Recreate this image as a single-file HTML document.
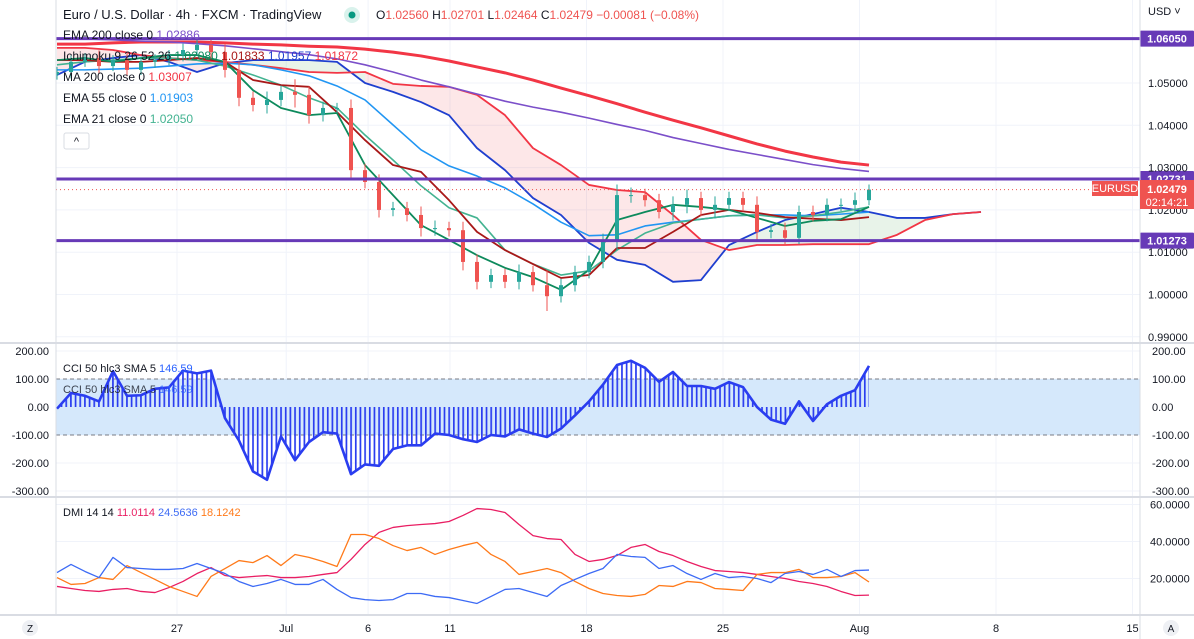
<!DOCTYPE html>
<html><head><meta charset="utf-8">
<style>
html,body{margin:0;padding:0;background:#fff;}
svg{display:block;font-family:"Liberation Sans",Arial,sans-serif;}
</style></head>
<body>
<svg id="chart" width="1194" height="639" viewBox="0 0 1194 639" xmlns="http://www.w3.org/2000/svg">
<defs>
<pattern id="cciPat" patternUnits="userSpaceOnUse" width="4.67" height="10"><rect x="0" y="0" width="1.7" height="10" fill="#2a3df0"/></pattern>
<clipPath id="mainClip"><rect x="56" y="0" width="1084" height="343"/></clipPath>
</defs>
<rect x="0" y="0" width="1194" height="639" fill="#fff"/>
<g id="grid"></g>
<g id="cloud" clip-path="url(#mainClip)"></g>
<g id="lines" clip-path="url(#mainClip)"></g>
<g id="candles" clip-path="url(#mainClip)"></g>
<g id="hlines"></g>
<g id="cci"></g>
<g id="dmi"></g>
<g id="axes"></g>
<g id="legend"></g>
</svg>
<script>
// ---- main price data (14px grid) ----
const closes=[1.0526,1.0550,1.0559,1.0540,1.0554,1.0531,1.0550,1.0554,1.0566,1.0578,1.0590,1.0573,1.0531,1.0465,1.0448,1.0460,1.0479,1.0472,1.0424,1.0441,1.0441,1.0294,1.0266,1.0200,1.0204,1.0188,1.0157,1.0157,1.0152,1.0077,1.0030,1.0046,1.0030,1.0053,1.0022,0.9996,1.0022,1.0053,1.0077,1.0129,1.0235,1.0235,1.0223,1.0195,1.0212,1.0228,1.0200,1.0212,1.0228,1.0212,1.0148,1.0152,1.0134,1.0195,1.0188,1.0212,1.0212,1.0223,1.0248];
const wicks=[0.0012,0.0015,0.0012,0.0018,0.0012,0.0015,0.0012,0.0014,0.0012,0.0015,0.0012,0.0015,0.0018,0.0020,0.0015,0.0020,0.0015,0.0030,0.0020,0.0015,0.0012,0.0020,0.0015,0.0018,0.0015,0.0015,0.0020,0.0018,0.0015,0.0020,0.0018,0.0015,0.0015,0.0018,0.0015,0.0035,0.0015,0.0015,0.0015,0.0015,0.0025,0.0018,0.0015,0.0015,0.0020,0.0020,0.0015,0.0020,0.0015,0.0015,0.0020,0.0015,0.0018,0.0015,0.0015,0.0015,0.0015,0.0018,0.0012];
// ---- indicator lines (28px grid) ----
const ema200=[1.0606,1.0604,1.0602,1.0599,1.0597,1.0593,1.0588,1.0581,1.0574,1.0567,1.0557,1.0543,1.0526,1.0507,1.0491,1.0474,1.0457,1.0443,1.0431,1.0417,1.0402,1.0388,1.0371,1.0357,1.0343,1.0331,1.0319,1.0307,1.0298,1.0291];
const ma200=[1.0592,1.0592,1.0595,1.0597,1.0597,1.0597,1.0595,1.0592,1.0590,1.0587,1.0585,1.0580,1.0573,1.0564,1.0552,1.0538,1.0524,1.0507,1.0488,1.0470,1.0451,1.0431,1.0412,1.0394,1.0375,1.0356,1.0339,1.0325,1.0313,1.0306];
const ema55=[1.0531,1.0531,1.0533,1.0535,1.0540,1.0545,1.0547,1.0543,1.0531,1.0517,1.0493,1.0460,1.0401,1.0342,1.0304,1.0280,1.0252,1.0214,1.0171,1.0139,1.0141,1.0162,1.0171,1.0178,1.0186,1.0188,1.0188,1.0186,1.0190,1.0195];
const ema21=[1.0543,1.0550,1.0554,1.0559,1.0559,1.0554,1.0540,1.0519,1.0495,1.0465,1.0441,1.0377,1.0318,1.0257,1.0205,1.0181,1.0105,1.0072,1.0046,1.0056,1.0105,1.0145,1.0169,1.0178,1.0186,1.0188,1.0181,1.0186,1.0195,1.0207];
const tenkan=[1.0554,1.0559,1.0550,1.0559,1.0566,1.0566,1.0550,1.0483,1.0441,1.0424,1.0429,1.0306,1.0235,1.0164,1.0129,1.0093,1.0063,1.0041,1.0011,1.0058,1.0176,1.0195,1.0212,1.0207,1.0200,1.0181,1.0162,1.0174,1.0178,1.0207];
const kijun=[1.0554,1.0554,1.0550,1.0550,1.0554,1.0559,1.0550,1.0507,1.0495,1.0491,1.0431,1.0365,1.0306,1.0290,1.0223,1.0148,1.0105,1.0072,1.0039,1.0046,1.0110,1.0110,1.0148,1.0188,1.0200,1.0193,1.0183,1.0179,1.0176,1.0183];
const spanA=[1.0519,1.0550,1.0559,1.0566,1.0550,1.0526,1.0547,1.0554,1.0554,1.0554,1.0550,1.0500,1.0479,1.0455,1.0424,1.0346,1.0294,1.0228,1.0188,1.0122,1.0082,1.0070,1.0030,1.0034,1.0117,1.0148,1.0176,1.0190,1.0205,1.0195,1.0181,1.0181,1.0190,1.0195];
const spanB=[1.0583,1.0583,1.0578,1.0566,1.0559,1.0554,1.0550,1.0543,1.0535,1.0526,1.0524,1.0526,1.0498,1.0493,1.0491,1.0472,1.0424,1.0346,1.0306,1.0259,1.0247,1.0242,1.0188,1.0129,1.0105,1.0117,1.0117,1.0119,1.0119,1.0119,1.0141,1.0176,1.0190,1.0195];
// ---- CCI (14px grid) ----
const cciVals=[-6,50,40,20,128,40,42,65,70,130,120,130,-40,-120,-230,-260,-105,-190,-125,-90,-95,-240,-205,-210,-150,-137,-137,-95,-100,-115,-125,-100,-105,-80,-95,-107,-77,-30,20,80,150,165,140,90,125,75,75,65,89,71,0,-45,-60,20,-50,10,40,60,147];
// ---- DMI (14px grid) ----
const adx=[15.7,14.6,13.5,13.0,14.1,14.6,13.0,12.4,15.1,18.4,22.7,25.9,21.6,20.5,21.1,21.6,20.5,20.5,21.1,22.2,23.2,30.3,38.4,44.9,47.6,48.6,49.2,49.7,50.8,54.1,57.8,57.3,55.7,49.2,43.2,41.6,41.1,33.0,29.2,30.3,32.4,36.8,38.4,34.6,32.4,29.2,26.5,24.3,23.8,23.2,22.2,21.1,20.0,18.4,17.3,15.7,13.0,10.8,11.0];
const plusDI=[23.2,27.6,23.8,20.5,31.4,25.9,25.4,24.9,24.9,25.4,28.1,25.4,22.7,18.4,15.7,17.3,19.5,16.8,16.8,19.5,14.1,9.7,8.6,8.1,8.6,11.9,11.9,10.3,9.7,8.1,6.5,10.3,14.1,14.6,12.4,10.3,16.2,19.5,22.7,25.4,33.0,31.9,31.4,25.4,27.0,22.7,19.5,22.7,20.5,21.1,20.0,17.8,22.7,23.8,22.2,24.9,21.1,24.3,24.56];
const minusDI=[20.5,16.8,17.3,20.5,19.5,27.0,23.2,19.5,15.7,13.0,10.3,21.1,25.4,29.7,28.6,32.4,27.0,33.0,31.4,29.2,26.5,43.8,43.8,41.6,37.8,35.1,36.8,33.0,35.7,37.8,39.5,33.0,29.2,22.2,23.8,25.4,23.2,18.4,14.6,11.9,10.8,10.3,11.4,16.2,15.7,18.4,17.8,14.6,14.1,13.5,22.2,23.2,23.2,24.9,20.5,20.5,21.1,23.2,18.1];
// ---- axis ticks ----
const priceTicks=[1.05,1.04,1.03,1.02,1.01,1.00,0.99];
const cciTicks=[200,100,0,-100,-200,-300];
const dmiTicks=[60,40,20];
const timeLabels=["27","Jul","6","11","18","25","Aug","8","15"];
const timeDays=[0,4,7,10,15,20,25,30,35];
const hLevels=[1.06050,1.02731,1.01273];
const lastPrice=1.02479;

const NS="http://www.w3.org/2000/svg";
function mk(parent,tag,attrs,text){const e=document.createElementNS(NS,tag);for(const k in attrs)e.setAttribute(k,attrs[k]);if(text!==undefined)e.textContent=text;parent.appendChild(e);return e;}
const py=p=>83+(1.05-p)*4230;
const cy=v=>407-v*0.28;
const dy=v=>578.5-(v-20)*1.85;
const x14=i=>57+i*14;
const x28=i=>57+i*28;
const tx=d=>177+d*27.3;
const G=id=>document.getElementById(id);

const grid=G('grid');
timeDays.forEach((d,i)=>{const l=mk(grid,'line',{x1:tx(d),x2:tx(d),y1:0,y2:615,stroke:'#f0f3fa','stroke-width':1});

});
priceTicks.forEach(p=>{const l=mk(grid,'line',{x1:56,x2:1140,y1:py(p),y2:py(p),stroke:'#f0f3fa'});

});
cciTicks.forEach(v=>{const l=mk(grid,'line',{x1:56,x2:1140,y1:cy(v),y2:cy(v),stroke:'#f0f3fa'});

});
dmiTicks.forEach(v=>{const l=mk(grid,'line',{x1:56,x2:1140,y1:dy(v),y2:dy(v),stroke:'#f0f3fa'});

});

const cloud=G('cloud');
for(let k=0;k<spanA.length-1;k++){
  const a0=py(spanA[k]),a1=py(spanA[k+1]),b0=py(spanB[k]),b1=py(spanB[k+1]);
  const bear=(spanB[k]+spanB[k+1])>(spanA[k]+spanA[k+1]);
  const poly=mk(cloud,'polygon',{points:`${x28(k)},${a0} ${x28(k+1)},${a1} ${x28(k+1)},${b1} ${x28(k)},${b0}`,fill:bear?'rgba(242,54,69,0.12)':'rgba(67,160,71,0.12)'});
  
  
}
function pl(g,arr,xf,yf,color,w,name){const pts=arr.map((v,i)=>xf(i)+','+yf(v)).join(' ');const e=mk(g,'polyline',{points:pts,fill:'none',stroke:color,'stroke-width':w,'stroke-linejoin':'round'});

return e;}
const lines=G('lines');
pl(lines,spanA,x28,py,'#1f3fcf',1.8,'senkou-span-a');
pl(lines,spanB,x28,py,'#f23645',1.8,'senkou-span-b');
pl(lines,ma200,x28,py,'#f23645',3,'ma-200');
pl(lines,ema200,x28,py,'#7b4fc9',1.6,'ema-200');
pl(lines,ema55,x28,py,'#2196f3',1.6,'ema-55');
pl(lines,ema21,x28,py,'#43b391',1.6,'ema-21');
pl(lines,kijun,x28,py,'#a81818',1.8,'kijun-sen');
pl(lines,tenkan,x28,py,'#0d8a5c',1.8,'tenkan-sen');

const cg=G('candles');
closes.forEach((c,i)=>{
  const o=i===0?1.0520:closes[i-1];
  const up=c>=o;const col=up?'#26a69a':'#ef5350';
  const hi=Math.max(o,c)+wicks[i],lo=Math.min(o,c)-wicks[i];
  const x=x14(i);
  const g=mk(cg,'g',{});
  
  
  mk(g,'line',{x1:x,x2:x,y1:py(hi),y2:py(lo),stroke:col,'stroke-width':1});
  const top=py(Math.max(o,c)),bot=py(Math.min(o,c));
  mk(g,'rect',{x:x-2,y:top,width:4,height:Math.max(1,bot-top),fill:col});
});

const hl=G('hlines');
const lp=mk(hl,'line',{x1:56,x2:1092,y1:py(lastPrice),y2:py(lastPrice),stroke:'#ef5350','stroke-width':1,'stroke-dasharray':'1,3'});


hLevels.forEach(p=>{
  const l=mk(hl,'line',{x1:56,x2:1140,y1:py(p),y2:py(p),stroke:'#673ab7','stroke-width':3});
  
  
  const r=mk(hl,'rect',{x:1140,y:py(p)-8,width:54,height:16,fill:'#673ab7',rx:1});
  
  
  const t=mk(hl,'text',{x:1167,y:py(p)+4,'font-size':11,'font-weight':'bold',fill:'#fff','text-anchor':'middle'},p.toFixed(5));
  
  
});

const cci=G('cci');
const band=mk(cci,'rect',{x:56,y:cy(100),width:1084,height:cy(-100)-cy(100),fill:'#d5e8fb'});


[100,-100].forEach(v=>{const l=mk(cci,'line',{x1:56,x2:1140,y1:cy(v),y2:cy(v),stroke:'#787b86','stroke-dasharray':'4,3'});

});
const areaPts=[x14(0)+','+cy(0)].concat(cciVals.map((v,i)=>x14(i)+','+cy(v))).concat([x14(cciVals.length-1)+','+cy(0)]).join(' ');
const hist=mk(cci,'polygon',{points:areaPts,fill:'url(#cciPat)'});


pl(cci,cciVals,x14,cy,'#2a3df0',2.6,'cci-line');

const dmi=G('dmi');
pl(dmi,adx,x14,dy,'#e91e63',1.3,'adx-line');
pl(dmi,minusDI,x14,dy,'#ff7a1a',1.3,'minus-di-line');
pl(dmi,plusDI,x14,dy,'#3d6bf5',1.3,'plus-di-line');

const ax=G('axes');
[[56,0,56,615],[1140,0,1140,639],[0,343,1194,343],[0,497,1194,497],[0,615,1194,615]].forEach(a=>{
  const l=mk(ax,'line',{x1:a[0],y1:a[1],x2:a[2],y2:a[3],stroke:'#d9dce3','stroke-width':a[1]===a[3]?2:1});
  
  
});
priceTicks.forEach(p=>{const t=mk(ax,'text',{x:1148,y:py(p)+4,'font-size':11,fill:'#131722'},p.toFixed(5));

});
cciTicks.forEach(v=>{
  const t=mk(ax,'text',{x:1152,y:cy(v)+4,'font-size':11,fill:'#131722'},v.toFixed(2));
  
  
  const t2=mk(ax,'text',{x:49,y:cy(v)+4,'font-size':11,fill:'#131722','text-anchor':'end'},v.toFixed(2));
  
  
});
dmiTicks.forEach(v=>{const t=mk(ax,'text',{x:1150,y:dy(v)+4,'font-size':11,fill:'#131722'},v.toFixed(4));

});
timeLabels.forEach((s,i)=>{const t=mk(ax,'text',{x:tx(timeDays[i]),y:632,'font-size':11,fill:'#131722','text-anchor':'middle'},s);

});
</script>
<svg style="position:absolute;left:0;top:0" width="1194" height="639" xmlns="http://www.w3.org/2000/svg" font-family="Liberation Sans, Arial, sans-serif">
<g>
<text x="63" y="19" font-size="13" fill="#131722">Euro / U.S. Dollar · 4h · FXCM · TradingView</text>
<circle cx="352" cy="15" r="8" fill="#d9f2ec"/>
<circle cx="352" cy="15" r="3.5" fill="#089981"/>
<text x="376" y="19" font-size="12" fill="#131722">O<tspan fill="#ef5350">1.02560</tspan> H<tspan fill="#ef5350">1.02701</tspan> L<tspan fill="#ef5350">1.02464</tspan> C<tspan fill="#ef5350">1.02479 −0.00081 (−0.08%)</tspan></text>
<text x="1148" y="15" font-size="11" fill="#131722">USD ˅</text>
</g>
<g font-size="12">
<text x="63" y="39" fill="#131722">EMA 200 close 0 <tspan fill="#7b4fc9">1.02886</tspan></text>
<text x="63" y="60" fill="#131722">Ichimoku 9 26 52 26 <tspan fill="#0d8a5c">1.02080</tspan> <tspan fill="#a81818">1.01833</tspan> <tspan fill="#1f3fcf">1.01957</tspan> <tspan fill="#f23645">1.01872</tspan></text>
<text x="63" y="81" fill="#131722">MA 200 close 0 <tspan fill="#f23645">1.03007</tspan></text>
<text x="63" y="102" fill="#131722">EMA 55 close 0 <tspan fill="#2196f3">1.01903</tspan></text>
<text x="63" y="123" fill="#131722">EMA 21 close 0 <tspan fill="#43b391">1.02050</tspan></text>
<rect x="64" y="133" width="25" height="16" rx="2" fill="#fff" stroke="#d9dce3"/>
<text x="76.5" y="145" font-size="11" fill="#131722" text-anchor="middle">^</text>
</g>
<g>
<rect x="1092" y="181" width="46" height="15" fill="#ef5350"/>
<text x="1115" y="192" font-size="11" fill="#fff" text-anchor="middle">EURUSD</text>
<rect x="1140" y="180" width="54" height="29" fill="#ef5350"/>
<text x="1167" y="193" font-size="11" font-weight="bold" fill="#fff" text-anchor="middle">1.02479</text>
<text x="1167" y="206" font-size="11" fill="#fff" text-anchor="middle">02:14:21</text>
</g>
<g font-size="11">
<text x="63" y="372" fill="#131722">CCI 50 hlc3 SMA 5 <tspan fill="#2a62ff">146.59</tspan></text>
<text x="63" y="393" fill="#131722" opacity="0.8">CCI 50 hlc3 SMA 5 <tspan fill="#2a62ff">146.59</tspan></text>
</g>
<text x="63" y="516" font-size="11" fill="#131722">DMI 14 14 <tspan fill="#e91e63">11.0114</tspan> <tspan fill="#3d6bf5">24.5636</tspan> <tspan fill="#ff7a1a">18.1242</tspan></text>
<circle cx="30" cy="628" r="8" fill="#eef0f4"/>
<text x="30" y="632" font-size="10" fill="#131722" text-anchor="middle">Z</text>
<circle cx="1171" cy="628" r="8" fill="#eef0f4"/>
<text x="1171" y="632" font-size="10" fill="#131722" text-anchor="middle">A</text>
</svg>
</body></html>
